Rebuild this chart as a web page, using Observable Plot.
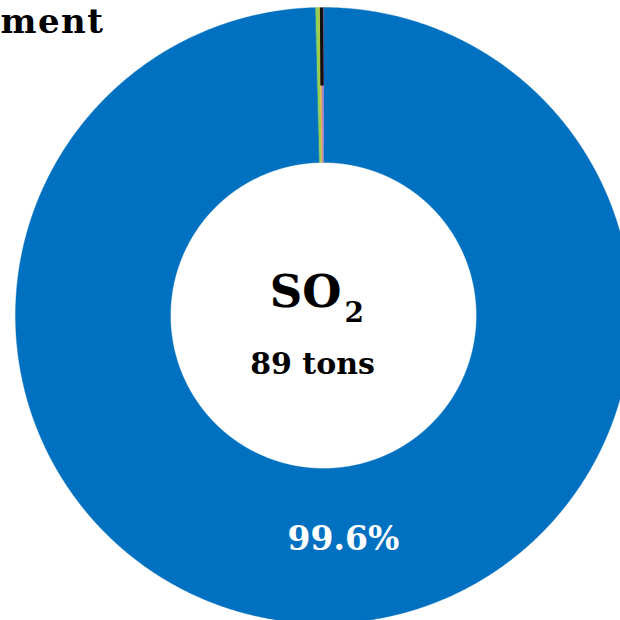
<!DOCTYPE html>
<html><head><meta charset="utf-8">
<script src="https://cdn.jsdelivr.net/npm/d3@7"></script>
<script src="https://cdn.jsdelivr.net/npm/@observablehq/plot@0.6"></script>
<style>html,body{margin:0;padding:0;overflow:hidden;background:#fff}</style>
</head><body><div id="chart"></div>
<script>
// ---- data ----
const categories = ["Source A", "Source B", "Source C", "Source D"];
const shares = [99.6, 0.2, 0.1, 0.1];          // percent of total
const colors = ["#0070C0", "#92D050", "#F6B63A", "#A77BC8"];
const pollutant = "SO";
const pollutantSub = "2";
const totalLabel = "89 tons";
const titleTail = "ment";

// ---- layout ----
const W = 620, H = 620;
const cx = 323, cy = 315, R = 308, R0 = 153;
const inner = R0 / R;
const font = "DejaVu Serif, Liberation Serif, serif";

const pieData = d3.pie().sort(null).value(d => d.share)(
  categories.map((c, i) => ({cat: c, share: shares[i]}))
);
const ring = [];
pieData.forEach(p => {
  const n = Math.max(2, Math.ceil((p.endAngle - p.startAngle) / 0.004));
  for (let k = 0; k <= n; k++) {
    const a = p.startAngle + (p.endAngle - p.startAngle) * k / n;
    ring.push({cat: p.data.cat, x: Math.sin(a), y: Math.cos(a)});
  }
  for (let k = n; k >= 0; k--) {
    const a = p.startAngle + (p.endAngle - p.startAngle) * k / n;
    ring.push({cat: p.data.cat, x: inner * Math.sin(a), y: inner * Math.cos(a)});
  }
});

const main = pieData[0];
const midA = (main.startAngle + main.endAngle) / 2;
const midR = (1 + inner) / 2;
const labelData = [{x: midR * Math.sin(midA), y: midR * Math.cos(midA), t: `${shares[0]}%`}];

const leadA = pieData[3].startAngle;
const leader = [{x1: 0.747 * Math.sin(leadA), y1: 0.747 * Math.cos(leadA), x2: Math.sin(leadA), y2: Math.cos(leadA)}];

const chart = Plot.plot({
  width: W, height: H,
  margin: 0,
  x: {domain: [-cx / R, (W - cx) / R], axis: null},
  y: {domain: [-(H - cy) / R, cy / R], axis: null},
  color: {domain: categories, range: colors},
  style: {fontFamily: font, background: "white"},
  marks: [
    Plot.line(ring, {x: "x", y: "y", z: "cat", fill: "cat", stroke: "cat", strokeWidth: 0.4, curve: "linear-closed", clip: true}),
    Plot.link(leader, {x1: "x1", y1: "y1", x2: "x2", y2: "y2", stroke: "#111", strokeWidth: 3.4, clip: true}),
    Plot.text(labelData, {x: "x", y: "y", text: "t", fill: "white", fontSize: 33, fontWeight: "bold", lineAnchor: "top", dx: 17, dy: -19}),
    Plot.text([pollutant], {x: () => 0, y: () => 0, text: d => d, fontSize: 45, fontWeight: "bold", fill: "black", textAnchor: "end", lineAnchor: "top", dx: 18, dy: -40}),
    Plot.text([pollutantSub], {x: () => 0, y: () => 0, text: d => d, fontSize: 28, fontWeight: "bold", fill: "black", textAnchor: "start", lineAnchor: "top", dx: 21, dy: -13}),
    Plot.text([totalLabel], {x: () => 0, y: () => 0, text: d => d, fontSize: 30, fontWeight: "bold", fill: "black", textAnchor: "middle", lineAnchor: "top", dx: -11, dy: 37}),
    Plot.text([titleTail], {frameAnchor: "top-left", text: d => d, fontSize: 34, fontWeight: "bold", fill: "black", textAnchor: "start", lineAnchor: "top", dx: 0, dy: 8, className: "title-tail"})
  ]
});
d3.select(chart).selectAll(".title-tail text").style("letter-spacing", "1.5px");
document.getElementById("chart").appendChild(chart);
</script>
</body></html>
